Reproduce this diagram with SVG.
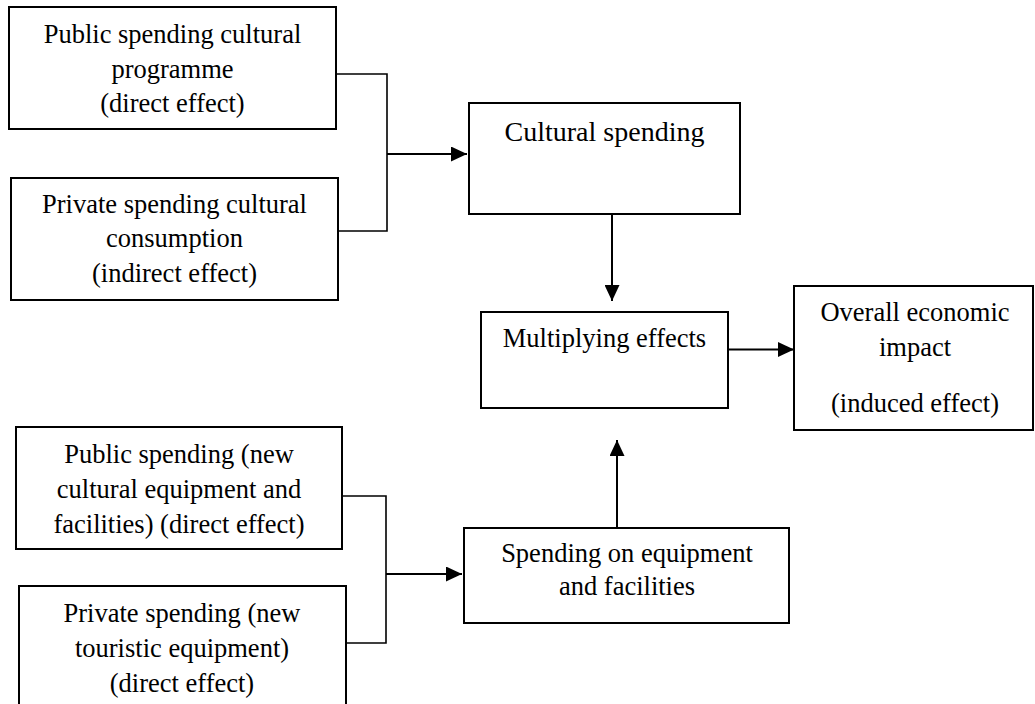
<svg xmlns="http://www.w3.org/2000/svg" width="1035" height="704" viewBox="0 0 1035 704">
  <style>
    .box { fill: #ffffff; stroke: #000000; stroke-width: 2; }
    .lbl { font-family: 'Liberation Serif', 'Times New Roman', Times, serif; font-size: 26.5px; fill: #000000; text-anchor: middle; }
    .big { font-size: 28px; }
    .link { fill: none; stroke: #000000; stroke-width: 2; }
    .join { fill: none; stroke: #000000; stroke-width: 1.6; }
  </style>
  <defs>
    <marker id="head" markerUnits="userSpaceOnUse" markerWidth="16" markerHeight="15" refX="16" refY="7.5" orient="auto">
      <path d="M0,0 L16,7.5 L0,15 Z" fill="#000000"/>
    </marker>
  </defs>
  <rect width="1035" height="704" fill="#ffffff"/>

  <!-- connectors -->
  <g id="connectors">
    <polyline class="join" points="336,74 387,74 387,231 338,231"/>
    <line class="link" x1="387" y1="154" x2="467" y2="154" marker-end="url(#head)"/>
    <line class="link" x1="612" y1="214" x2="612" y2="301" marker-end="url(#head)"/>
    <line class="link" x1="728" y1="349.5" x2="794" y2="349.5" marker-end="url(#head)"/>
    <polyline class="join" points="342,496 386,496 386,643 346,643"/>
    <line class="link" x1="386" y1="574" x2="462" y2="574" marker-end="url(#head)"/>
    <line class="link" x1="617" y1="528" x2="617" y2="440" marker-end="url(#head)"/>
  </g>

  <g id="public-programme">
    <rect class="box" x="9" y="7" width="327" height="122"/>
    <text class="lbl" x="172.5" y="43">Public spending cultural</text>
    <text class="lbl" x="172.5" y="78">programme</text>
    <text class="lbl" x="172.5" y="112">(direct effect)</text>
  </g>

  <g id="private-consumption">
    <rect class="box" x="11" y="178" width="327" height="122"/>
    <text class="lbl" x="174.5" y="213">Private spending cultural</text>
    <text class="lbl" x="174.5" y="247">consumption</text>
    <text class="lbl" x="174.5" y="282">(indirect effect)</text>
  </g>

  <g id="cultural-spending">
    <rect class="box" x="469" y="103" width="271" height="111"/>
    <text class="lbl big" x="604.5" y="141">Cultural spending</text>
  </g>

  <g id="multiplying-effects">
    <rect class="box" x="481" y="312" width="247" height="96"/>
    <text class="lbl" x="604.5" y="347">Multiplying effects</text>
  </g>

  <g id="overall-impact">
    <rect class="box" x="794" y="286" width="239" height="144"/>
    <text class="lbl" x="915" y="321">Overall economic</text>
    <text class="lbl" x="915" y="356">impact</text>
    <text class="lbl" x="915" y="412">(induced effect)</text>
  </g>

  <g id="public-equipment">
    <rect class="box" x="16" y="427" width="326" height="122"/>
    <text class="lbl" x="179" y="463">Public spending (new</text>
    <text class="lbl" x="179" y="498">cultural equipment and</text>
    <text class="lbl" x="179" y="533">facilities) (direct effect)</text>
  </g>

  <g id="private-equipment">
    <rect class="box" x="19" y="586" width="327" height="122"/>
    <text class="lbl" x="182" y="622">Private spending (new</text>
    <text class="lbl" x="182" y="657">touristic equipment)</text>
    <text class="lbl" x="182" y="692">(direct effect)</text>
  </g>

  <g id="equipment-spending">
    <rect class="box" x="464" y="528" width="325" height="95"/>
    <text class="lbl" x="627" y="562">Spending on equipment</text>
    <text class="lbl" x="627" y="595">and facilities</text>
  </g>
</svg>
